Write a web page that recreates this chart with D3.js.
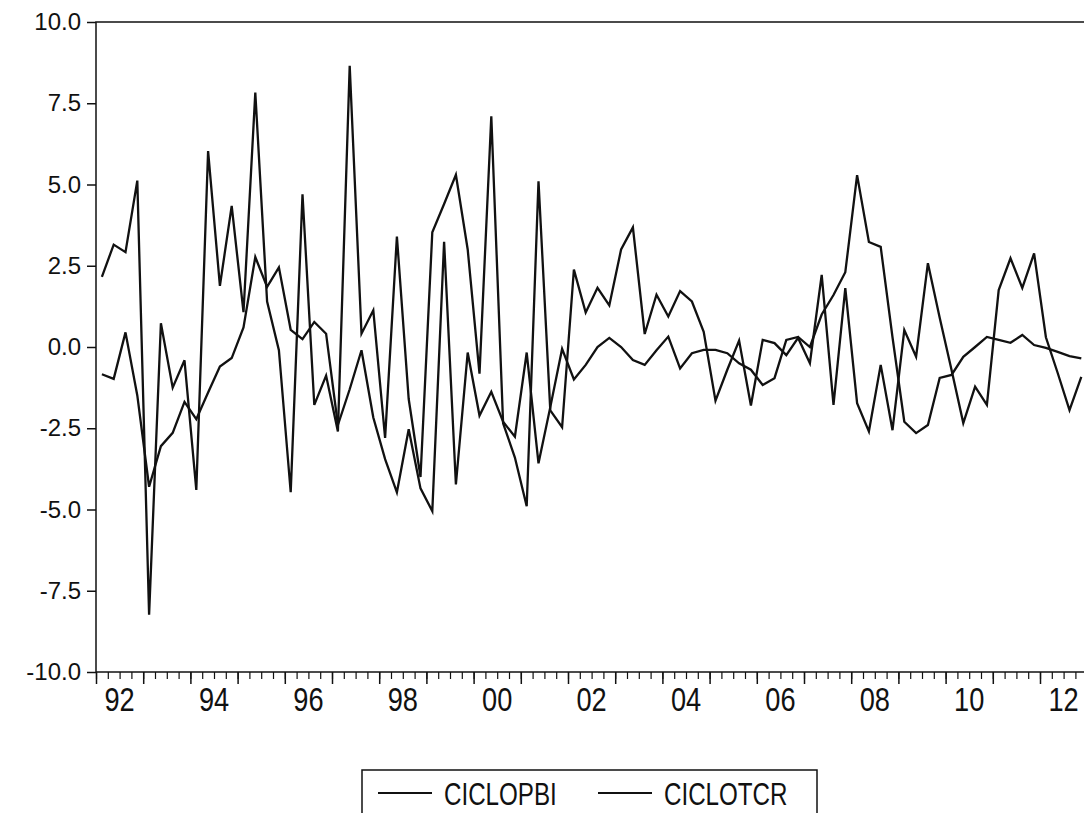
<!DOCTYPE html>
<html lang="en">
<head>
    <meta charset="UTF-8">
    <title>CICLOPBI / CICLOTCR</title>
    <script src="https://d3js.org/d3.v7.min.js"></script>
    <style>
        body { margin: 0; background: #fff; }
        .ylab { font-family: "Liberation Sans", Arial, sans-serif; font-size: 24px; fill: #111; }
        .xlab, .leg { font-family: "Liberation Sans", Arial, sans-serif; fill: #111; }
    </style>
</head>
<body>
<script>
    // quarterly, 1992Q1 .. 2012Q4
    var yearLabels = ["92", "94", "96", "98", "00", "02", "04", "06", "08", "10", "12"];
    var yTicks = [-10, -7.5, -5, -2.5, 0, 2.5, 5, 7.5, 10];

    var ciclopbi = [
        -0.84, -0.98, 0.45, -1.49, -4.30, -3.05, -2.64, -1.69, -2.22, -1.40,
        -0.60, -0.34, 0.60, 2.77, 1.85, 2.45, 0.53, 0.24, 0.77, 0.41,
        -2.40, -1.30, -0.10, -2.17, -3.45, -4.47, -2.53, -4.35, -5.05, 3.24,
        -4.23, -0.17, -2.11, -1.38, -2.30, -2.76, -0.17, -3.58, -1.85, -0.06,
        -1.00, -0.55, 0.00, 0.28, 0.00, -0.40, -0.55, -0.10, 0.32, -0.66,
        -0.19, -0.09, -0.09, -0.19, -0.50, -0.70, -1.17, -0.96, 0.22, 0.31,
        0.00, 1.00, 1.60, 2.30, 5.29, 3.23, 3.08, 0.30, -2.30, -2.65,
        -2.40, -0.95, -0.86, -0.30, 0.00, 0.31, 0.22, 0.13, 0.37, 0.06,
        -0.03, -0.15, -0.28, -0.35
    ];

    var ciclotcr = [
        2.16, 3.15, 2.92, 5.12, -8.24, 0.73, -1.25, -0.41, -4.40, 6.03,
        1.88, 4.34, 1.07, 7.83, 1.40, -0.10, -4.47, 4.70, -1.78, -0.88,
        -2.60, 8.65, 0.41, 1.13, -2.80, 3.40, -1.60, -4.00, 3.53, 4.40,
        5.30, 3.00, -0.82, 7.10, -2.35, -3.40, -4.90, 5.10, -1.95, -2.47,
        2.38, 1.06, 1.82, 1.28, 3.00, 3.68, 0.40, 1.61, 0.94, 1.72,
        1.40, 0.47, -1.65, -0.70, 0.20, -1.80, 0.22, 0.12, -0.25, 0.28,
        -0.50, 2.22, -1.78, 1.81, -1.73, -2.60, -0.55, -2.56, 0.52, -0.30,
        2.58, 0.90, -0.70, -2.34, -1.22, -1.78, 1.75, 2.73, 1.82, 2.88,
        0.30, -0.80, -1.94, -0.92
    ];

    var seriesNames = ["CICLOPBI", "CICLOTCR"];

    var width = 1084, height = 813;
    var plotLeft = 96, plotTop = 22, plotBottom = 672;
    var slot = 11.8;
    var n = ciclopbi.length;

    var svg = d3.select("body").append("svg")
        .attr("width", width)
        .attr("height", height);

    // slot edges: observation i sits in the middle of slot i
    var x = d3.scaleLinear().domain([0, n]).range([plotLeft, plotLeft + n * slot]);
    var y = d3.scaleLinear().domain([-10, 10]).range([plotBottom, plotTop]);

    // frame
    svg.append("rect")
        .attr("x", plotLeft).attr("y", plotTop)
        .attr("width", n * slot).attr("height", plotBottom - plotTop)
        .attr("fill", "none").attr("stroke", "#111").attr("stroke-width", 1.5);

    // y axis (plain hyphen for negatives, like the original)
    var fmt = d3.format(".1f");
    var yAxis = svg.append("g")
        .attr("transform", "translate(" + plotLeft + ",0)")
        .call(d3.axisLeft(y).tickValues(yTicks).tickSize(9).tickPadding(6)
            .tickFormat(function(d) { return fmt(d).replace("\u2212", "-"); }));
    yAxis.select(".domain").remove();
    yAxis.selectAll("line").attr("stroke", "#111").attr("stroke-width", 1.5);
    yAxis.selectAll("text").attr("class", "ylab").attr("font-size", null).attr("font-family", null);

    // x axis: quarter ticks, longer at each year
    var xMinor = svg.append("g")
        .attr("transform", "translate(0," + plotBottom + ")")
        .call(d3.axisBottom(x).tickValues(d3.range(0, n + 1)).tickSize(7).tickFormat(""));
    xMinor.select(".domain").remove();
    xMinor.selectAll("line").attr("stroke", "#111").attr("stroke-width", 1.2);

    var xMajor = svg.append("g")
        .attr("transform", "translate(0," + plotBottom + ")")
        .call(d3.axisBottom(x).tickValues(d3.range(0, n + 1, 4)).tickSize(12).tickFormat(""));
    xMajor.select(".domain").remove();
    xMajor.selectAll("line").attr("stroke", "#111").attr("stroke-width", 1.5);

    // narrow-looking year labels
    svg.append("g").selectAll("g")
        .data(yearLabels)
        .enter().append("g")
        .attr("transform", function(d, i) { return "translate(" + x(i * 8 + 2) + ",711) scale(0.8,1)"; })
        .append("text")
        .attr("class", "xlab")
        .attr("text-anchor", "middle")
        .attr("font-size", 34)
        .text(function(d) { return d; });

    // lines
    var line = d3.line()
        .x(function(d, i) { return x(i + 0.5); })
        .y(function(d) { return y(d); });

    svg.append("g").selectAll("path")
        .data([ciclopbi, ciclotcr])
        .enter().append("path")
        .attr("d", line)
        .attr("fill", "none")
        .attr("stroke", "#111")
        .attr("stroke-width", 2.3)
        .attr("stroke-linejoin", "miter");

    // legend
    var leg = svg.append("g");
    leg.append("rect")
        .attr("x", 362).attr("y", 770)
        .attr("width", 455).attr("height", 60)
        .attr("fill", "#fff").attr("stroke", "#111").attr("stroke-width", 1.5);

    var items = leg.selectAll("g.item")
        .data(seriesNames)
        .enter().append("g")
        .attr("transform", function(d, i) { return "translate(" + (378 + i * 220) + ",0)"; });
    items.append("line")
        .attr("x1", 0).attr("x2", 54)
        .attr("y1", 793).attr("y2", 793)
        .attr("stroke", "#111").attr("stroke-width", 2);
    items.append("g")
        .attr("transform", "translate(66,805) scale(0.78,1)")
        .append("text")
        .attr("class", "leg")
        .attr("font-size", 31)
        .text(function(d) { return d; });
</script>
</body>
</html>
